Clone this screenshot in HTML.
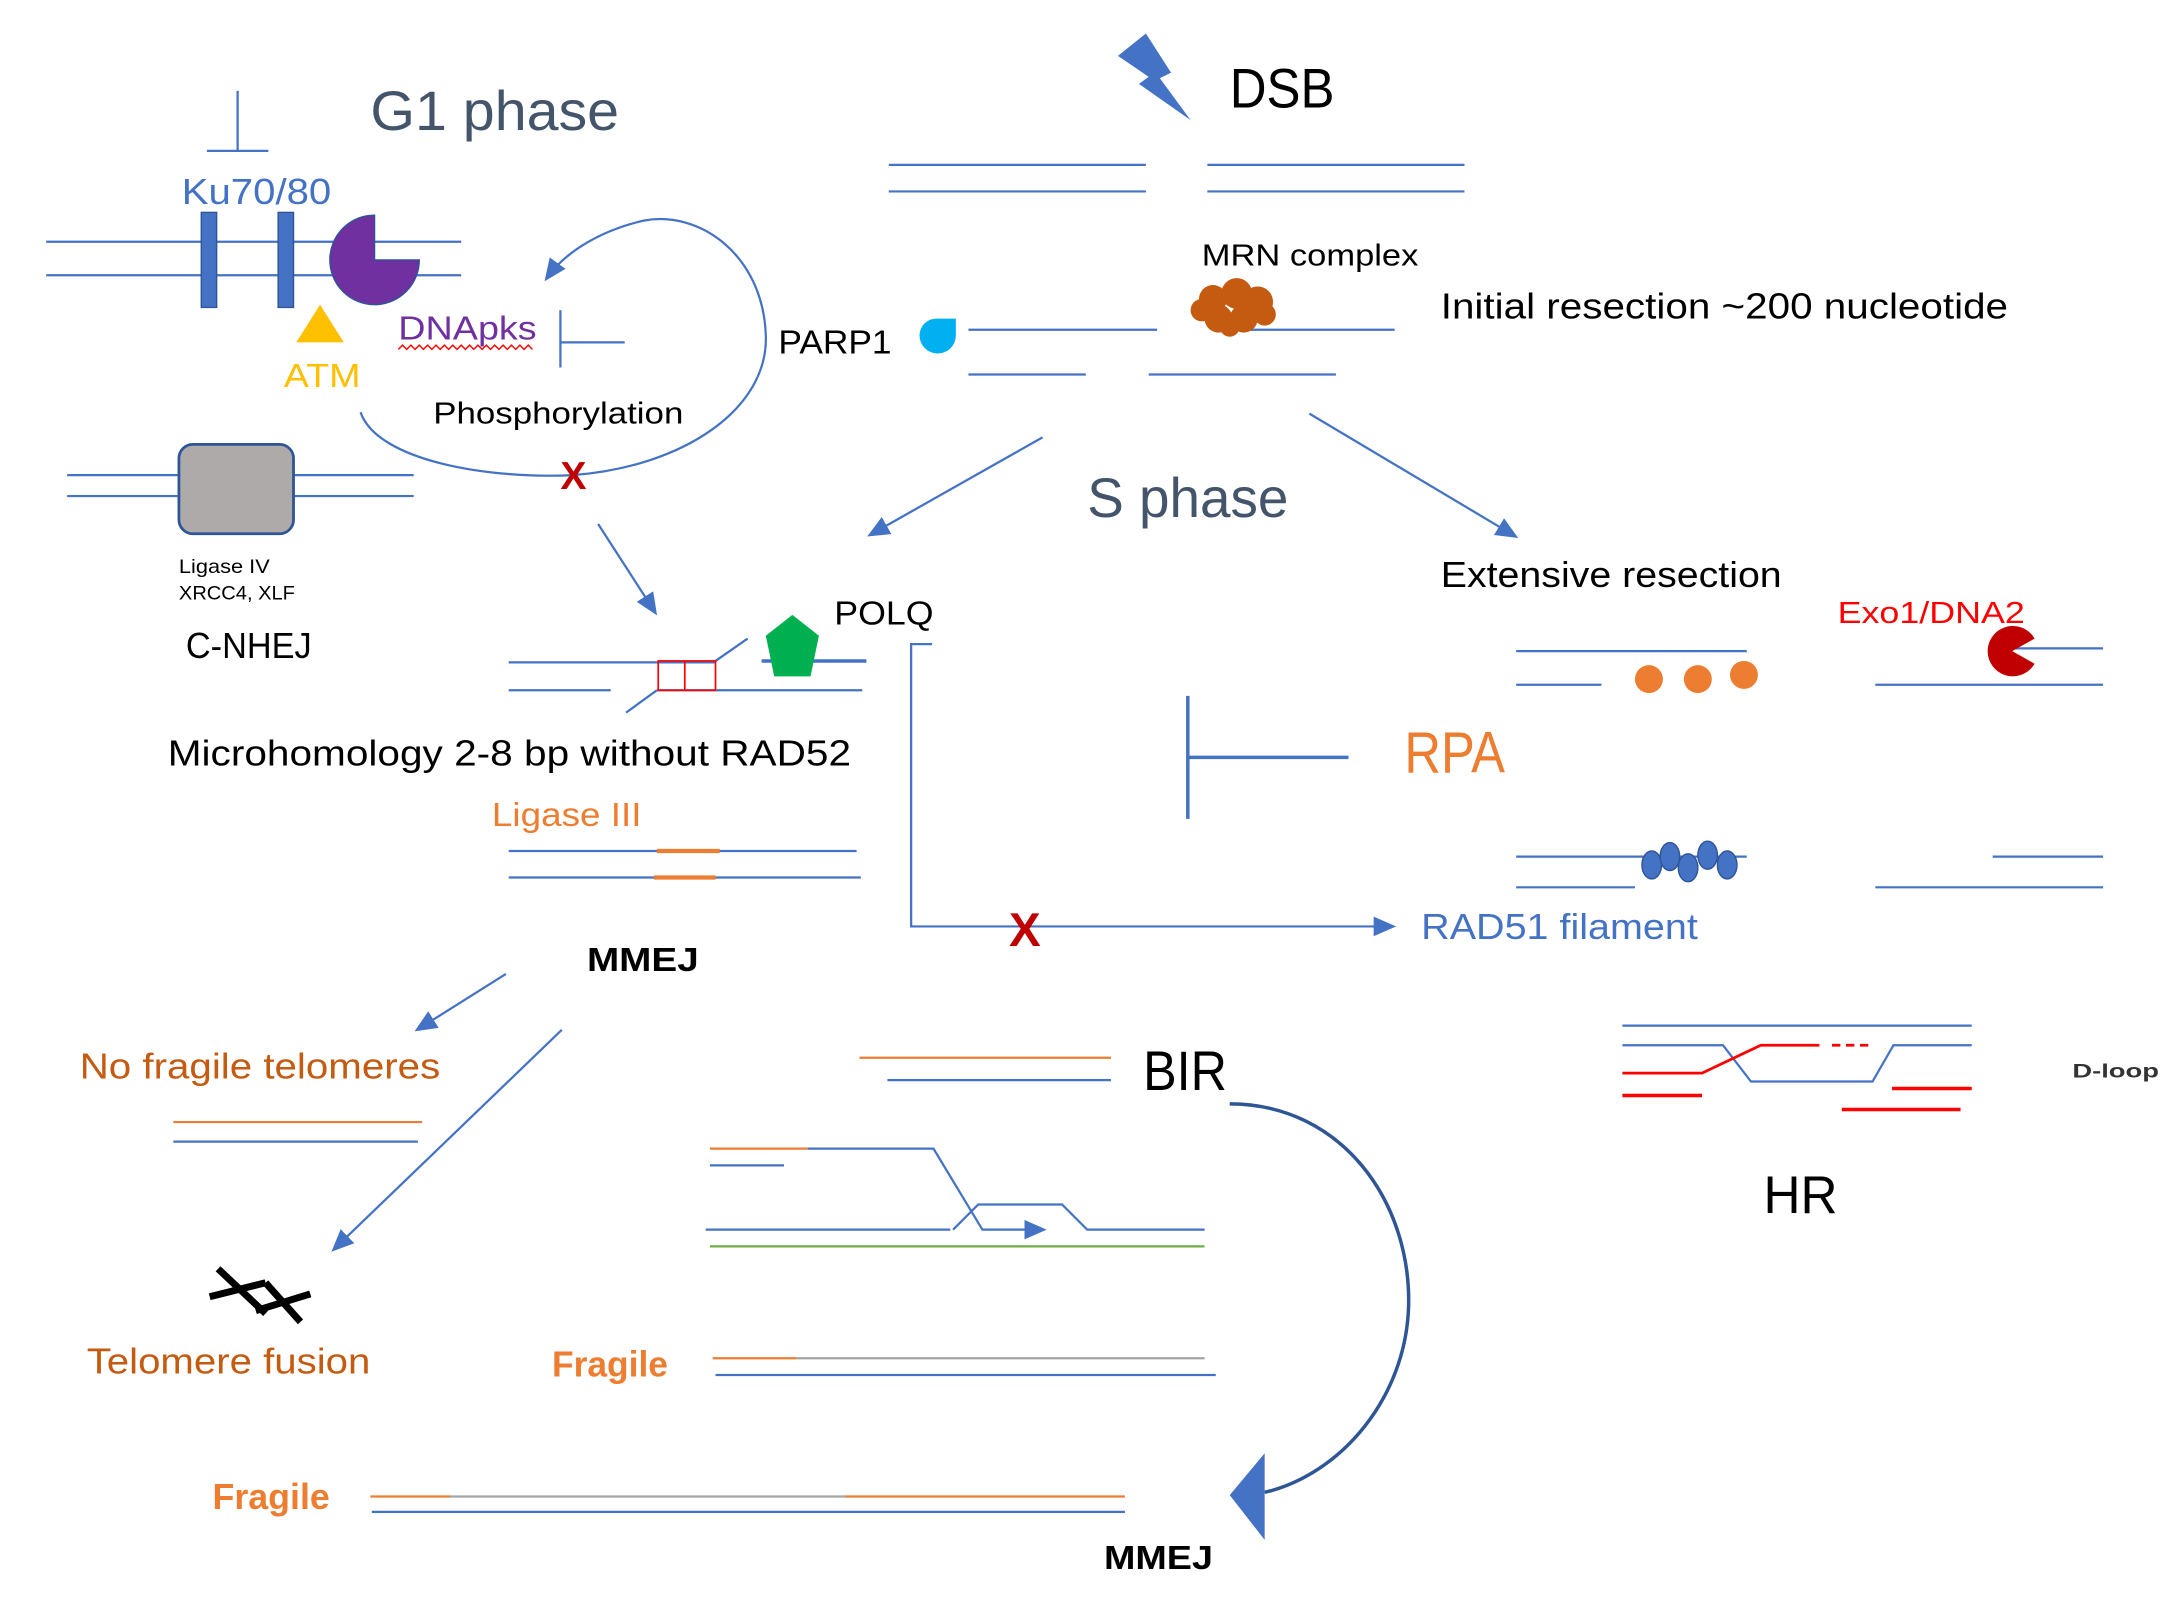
<!DOCTYPE html>
<html><head><meta charset="utf-8"><style>
html,body{margin:0;padding:0;background:#fff;}
svg{display:block;}
text{font-family:"Liberation Sans",sans-serif;}
</style></head><body>
<svg width="2180" height="1598" viewBox="0 0 1560 1143.6" xmlns="http://www.w3.org/2000/svg">
<defs>
<marker id="ah2" markerWidth="16" markerHeight="14" refX="12" refY="7" orient="auto" markerUnits="userSpaceOnUse"><path d="M0,0 L16,7 L0,14 z" fill="#4472c4"/></marker>
</defs>
<g stroke="#4472c4" stroke-width="1.6" fill="none">
<line x1="170" y1="65" x2="170" y2="108"/><line x1="148" y1="108" x2="192" y2="108"/>
<line x1="33" y1="173" x2="330" y2="173"/><line x1="33" y1="197" x2="330" y2="197"/>
<line x1="401" y1="222" x2="401" y2="263"/><line x1="401" y1="245" x2="447" y2="245"/>
<path d="M258,295 C270,330 350,343 410,340 C490,334 550,292 548,240 C546,182 500,150 460,158 C430,165 405,180 392,198" marker-end="url(#ah2)"/>
<line x1="48" y1="340" x2="296" y2="340"/><line x1="48" y1="355" x2="296" y2="355"/>
<line x1="428" y1="375" x2="468" y2="437" marker-end="url(#ah2)"/>
<line x1="636" y1="118" x2="820" y2="118"/><line x1="636" y1="137" x2="820" y2="137"/>
<line x1="864" y1="118" x2="1048" y2="118"/><line x1="864" y1="137" x2="1048" y2="137"/>
<line x1="693" y1="236" x2="828" y2="236"/><line x1="880" y1="236" x2="998" y2="236"/>
<line x1="693" y1="268" x2="777" y2="268"/><line x1="822" y1="268" x2="956" y2="268"/>
<line x1="746" y1="313" x2="624" y2="382" marker-end="url(#ah2)"/>
<line x1="937" y1="296" x2="1083" y2="383" marker-end="url(#ah2)"/>
<line x1="1085" y1="466" x2="1250" y2="466"/><line x1="1085" y1="490" x2="1146" y2="490"/>
<line x1="1432" y1="464" x2="1505" y2="464"/><line x1="1342" y1="490" x2="1505" y2="490"/>
<line x1="1085" y1="613" x2="1250" y2="613"/><line x1="1085" y1="635" x2="1170" y2="635"/>
<line x1="1426" y1="613" x2="1505" y2="613"/><line x1="1342" y1="635" x2="1505" y2="635"/>
<line x1="850" y1="498" x2="850" y2="586" stroke-width="2.5"/><line x1="850" y1="542" x2="965" y2="542" stroke-width="2.5"/>
<polyline points="667,461 652,461 652,663 995,663" marker-end="url(#ah2)"/>
<line x1="364" y1="474" x2="512" y2="474"/><line x1="512" y1="473" x2="535" y2="457"/>
<line x1="545" y1="473" x2="620" y2="473" stroke-width="2.5"/>
<line x1="364" y1="494" x2="437" y2="494"/><line x1="470" y1="494" x2="617" y2="494"/>
<line x1="470" y1="494" x2="448" y2="510"/>
<line x1="364" y1="609" x2="613" y2="609"/><line x1="364" y1="628" x2="616" y2="628"/>
<line x1="362" y1="697" x2="300" y2="736" marker-end="url(#ah2)"/>
<line x1="402" y1="737" x2="240" y2="893" marker-end="url(#ah2)"/>
<line x1="124" y1="817" x2="299" y2="817"/>
<line x1="635" y1="773" x2="795" y2="773"/>
<polyline points="578,822 668,822 703,880 745,880" marker-end="url(#ah2)"/>
<line x1="508" y1="834" x2="561" y2="834"/>
<polyline points="505,880 680,880"/>
<polyline points="682,880 700,862 760,862 778,880 862,880"/>
<line x1="512" y1="984" x2="870" y2="984"/>
<line x1="266" y1="1082" x2="805" y2="1082"/>
<line x1="1161" y1="734" x2="1411" y2="734"/>
<polyline points="1161,748 1233,748 1253,774 1340,774 1355,748 1411,748"/>
</g>
<g fill="none" stroke-width="1.6">
<line x1="470" y1="609" x2="515" y2="609" stroke="#ed7d31" stroke-width="3"/>
<line x1="468" y1="628" x2="512" y2="628" stroke="#ed7d31" stroke-width="3"/>
<line x1="124" y1="803" x2="302" y2="803" stroke="#ed7d31"/>
<line x1="615" y1="757" x2="795" y2="757" stroke="#ed7d31"/>
<line x1="508" y1="822" x2="578" y2="822" stroke="#ed7d31"/>
<line x1="508" y1="892" x2="862" y2="892" stroke="#70ad47"/>
<line x1="510" y1="972" x2="570" y2="972" stroke="#ed7d31"/>
<line x1="570" y1="972" x2="862" y2="972" stroke="#a5a5a5"/>
<line x1="265" y1="1071" x2="322" y2="1071" stroke="#ed7d31"/>
<line x1="322" y1="1071" x2="605" y2="1071" stroke="#a5a5a5"/>
<line x1="605" y1="1071" x2="805" y2="1071" stroke="#ed7d31"/>
<rect x="471" y="473" width="41" height="21" stroke="#ff0000" stroke-width="1.2"/>
<line x1="490" y1="473" x2="490" y2="494" stroke="#ff0000" stroke-width="1.2"/>
<polyline points="1161,768 1218,768 1260,748 1302,748" stroke="#ff0000" stroke-width="2"/>
<line x1="1311" y1="748" x2="1338" y2="748" stroke="#ff0000" stroke-width="2" stroke-dasharray="6,4"/>
<line x1="1161" y1="784" x2="1218" y2="784" stroke="#ff0000" stroke-width="2.5"/>
<line x1="1354" y1="779" x2="1411" y2="779" stroke="#ff0000" stroke-width="2.5"/>
<line x1="1318" y1="794" x2="1403" y2="794" stroke="#ff0000" stroke-width="2.5"/>
<path d="M880,790 C960,790 1010,860 1008,935 C1006,1000 960,1055 905,1068" stroke="#2f5597" stroke-width="2.5"/>
</g>
<polygon points="880,1070 905,1040 905,1102" fill="#4472c4"/>
<rect x="144" y="152" width="11" height="68" fill="#4472c4" stroke="#2f5597"/>
<rect x="199" y="152" width="11" height="68" fill="#4472c4" stroke="#2f5597"/>
<path d="M268,186 L268,154 A32,32 0 1 0 300,186 Z" fill="#7030a0" stroke="#2f5597"/>
<polygon points="229,218 212,245 246,245" fill="#ffc000"/>
<rect x="128" y="318" width="82" height="64" rx="10" fill="#aeaaaa" stroke="#2f5597" stroke-width="2"/>
<path d="M820,24 L800,40 L822,55 L815,60 L852,86 L830,56 L838,52 Z" fill="#4472c4"/>
<g fill="#c55a11"><circle cx="868" cy="214" r="10"/><circle cx="885" cy="210" r="11"/><circle cx="900" cy="216" r="11"/><circle cx="872" cy="228" r="10"/><circle cx="890" cy="228" r="10"/><circle cx="905" cy="225" r="8"/><circle cx="860" cy="222" r="8"/><circle cx="880" cy="234" r="7"/></g>
<path d="M658,240 A12,12 0 1 0 684,240 L684,228 L670,228 A12,12 0 0 0 658,240 Z" fill="#00b0f0"/>
<polygon points="567,440 586,455 580,484 554,484 548,455" fill="#00b050"/>
<g fill="#ed7d31"><circle cx="1180" cy="486" r="10"/><circle cx="1215" cy="486" r="10"/><circle cx="1248" cy="483" r="10"/></g>
<path d="M1440,466 L1456,457 A18,18 0 1 0 1456,475 Z" fill="#c00000"/>
<g fill="#4472c4" stroke="#2f5597"><ellipse cx="1182" cy="619" rx="7" ry="10"/><ellipse cx="1195" cy="613" rx="7" ry="10"/><ellipse cx="1208" cy="621" rx="7" ry="10"/><ellipse cx="1222" cy="612" rx="7" ry="10"/><ellipse cx="1236" cy="619" rx="7" ry="10"/></g>
<g stroke="#000" stroke-width="5" fill="none"><line x1="156" y1="908" x2="190" y2="940"/><line x1="150" y1="928" x2="190" y2="918"/><line x1="190" y1="918" x2="215" y2="946"/><line x1="183" y1="938" x2="222" y2="926"/></g>
<g lengthAdjust="spacingAndGlyphs">
<text x="265" y="93" font-size="40" fill="#44546a" textLength="178" lengthAdjust="spacingAndGlyphs">G1 phase</text>
<text x="130" y="146" font-size="26" fill="#4472c4" textLength="107" lengthAdjust="spacingAndGlyphs">Ku70/80</text>
<text x="285" y="243" font-size="24" fill="#7030a0" textLength="99" lengthAdjust="spacingAndGlyphs">DNApks</text>
<path d="M285,250 l3,-3 l3,3 l3,-3 l3,3 l3,-3 l3,3 l3,-3 l3,3 l3,-3 l3,3 l3,-3 l3,3 l3,-3 l3,3 l3,-3 l3,3 l3,-3 l3,3 l3,-3 l3,3 l3,-3 l3,3 l3,-3 l3,3 l3,-3 l3,3 l3,-3 l3,3 l3,-3 l3,3 l3,-3 l3,3" stroke="#ff0000" fill="none" stroke-width="1"/>
<text x="203" y="277" font-size="24" fill="#ffc000" textLength="55" lengthAdjust="spacingAndGlyphs">ATM</text>
<text x="310" y="303" font-size="22" fill="#000" textLength="179" lengthAdjust="spacingAndGlyphs">Phosphorylation</text>
<text x="401" y="350" font-size="28" font-weight="bold" fill="#c00000">X</text>
<text x="128" y="410" font-size="14" fill="#000" textLength="65" lengthAdjust="spacingAndGlyphs">Ligase IV</text>
<text x="128" y="429" font-size="14" fill="#000" textLength="83" lengthAdjust="spacingAndGlyphs">XRCC4, XLF</text>
<text x="133" y="471" font-size="26" fill="#000" textLength="90" lengthAdjust="spacingAndGlyphs">C-NHEJ</text>
<text x="880" y="77" font-size="40" fill="#000" textLength="75" lengthAdjust="spacingAndGlyphs">DSB</text>
<text x="860" y="190" font-size="22" fill="#000" textLength="155" lengthAdjust="spacingAndGlyphs">MRN complex</text>
<text x="557" y="253" font-size="24" fill="#000" textLength="81" lengthAdjust="spacingAndGlyphs">PARP1</text>
<text x="1031" y="228" font-size="26" fill="#000" textLength="406" lengthAdjust="spacingAndGlyphs">Initial resection ~200 nucleotide</text>
<text x="778" y="370" font-size="40" fill="#44546a" textLength="144" lengthAdjust="spacingAndGlyphs">S phase</text>
<text x="1031" y="420" font-size="26" fill="#000" textLength="244" lengthAdjust="spacingAndGlyphs">Extensive resection</text>
<text x="1315" y="446" font-size="22" fill="#ff0000" textLength="134" lengthAdjust="spacingAndGlyphs">Exo1/DNA2</text>
<text x="1005" y="553" font-size="42" fill="#ed7d31" textLength="72" lengthAdjust="spacingAndGlyphs">RPA</text>
<text x="597" y="447" font-size="24" fill="#000" textLength="71" lengthAdjust="spacingAndGlyphs">POLQ</text>
<text x="120" y="548" font-size="26" fill="#000" textLength="489" lengthAdjust="spacingAndGlyphs">Microhomology 2-8 bp without RAD52</text>
<text x="352" y="591" font-size="24" fill="#ed7d31" textLength="107" lengthAdjust="spacingAndGlyphs">Ligase III</text>
<text x="722" y="677" font-size="34" font-weight="bold" fill="#c00000">X</text>
<text x="1017" y="672" font-size="26" fill="#4472c4" textLength="198" lengthAdjust="spacingAndGlyphs">RAD51 filament</text>
<text x="420" y="695" font-size="24" font-weight="bold" fill="#000" textLength="80" lengthAdjust="spacingAndGlyphs">MMEJ</text>
<text x="57" y="772" font-size="26" fill="#c55a11" textLength="258" lengthAdjust="spacingAndGlyphs">No fragile telomeres</text>
<text x="818" y="780" font-size="40" fill="#000" textLength="60" lengthAdjust="spacingAndGlyphs">BIR</text>
<text x="1483" y="771" font-size="14" font-weight="bold" fill="#333" textLength="62" lengthAdjust="spacingAndGlyphs">D-loop</text>
<text x="1262" y="868" font-size="38" fill="#000" textLength="53" lengthAdjust="spacingAndGlyphs">HR</text>
<text x="62" y="983" font-size="26" fill="#c55a11" textLength="203" lengthAdjust="spacingAndGlyphs">Telomere fusion</text>
<text x="395" y="985" font-size="26" font-weight="bold" fill="#ed7d31" textLength="83" lengthAdjust="spacingAndGlyphs">Fragile</text>
<text x="152" y="1080" font-size="26" font-weight="bold" fill="#ed7d31" textLength="84" lengthAdjust="spacingAndGlyphs">Fragile</text>
<text x="790" y="1123" font-size="24" font-weight="bold" fill="#000" textLength="78" lengthAdjust="spacingAndGlyphs">MMEJ</text>
</g>
</svg>
</body></html>
